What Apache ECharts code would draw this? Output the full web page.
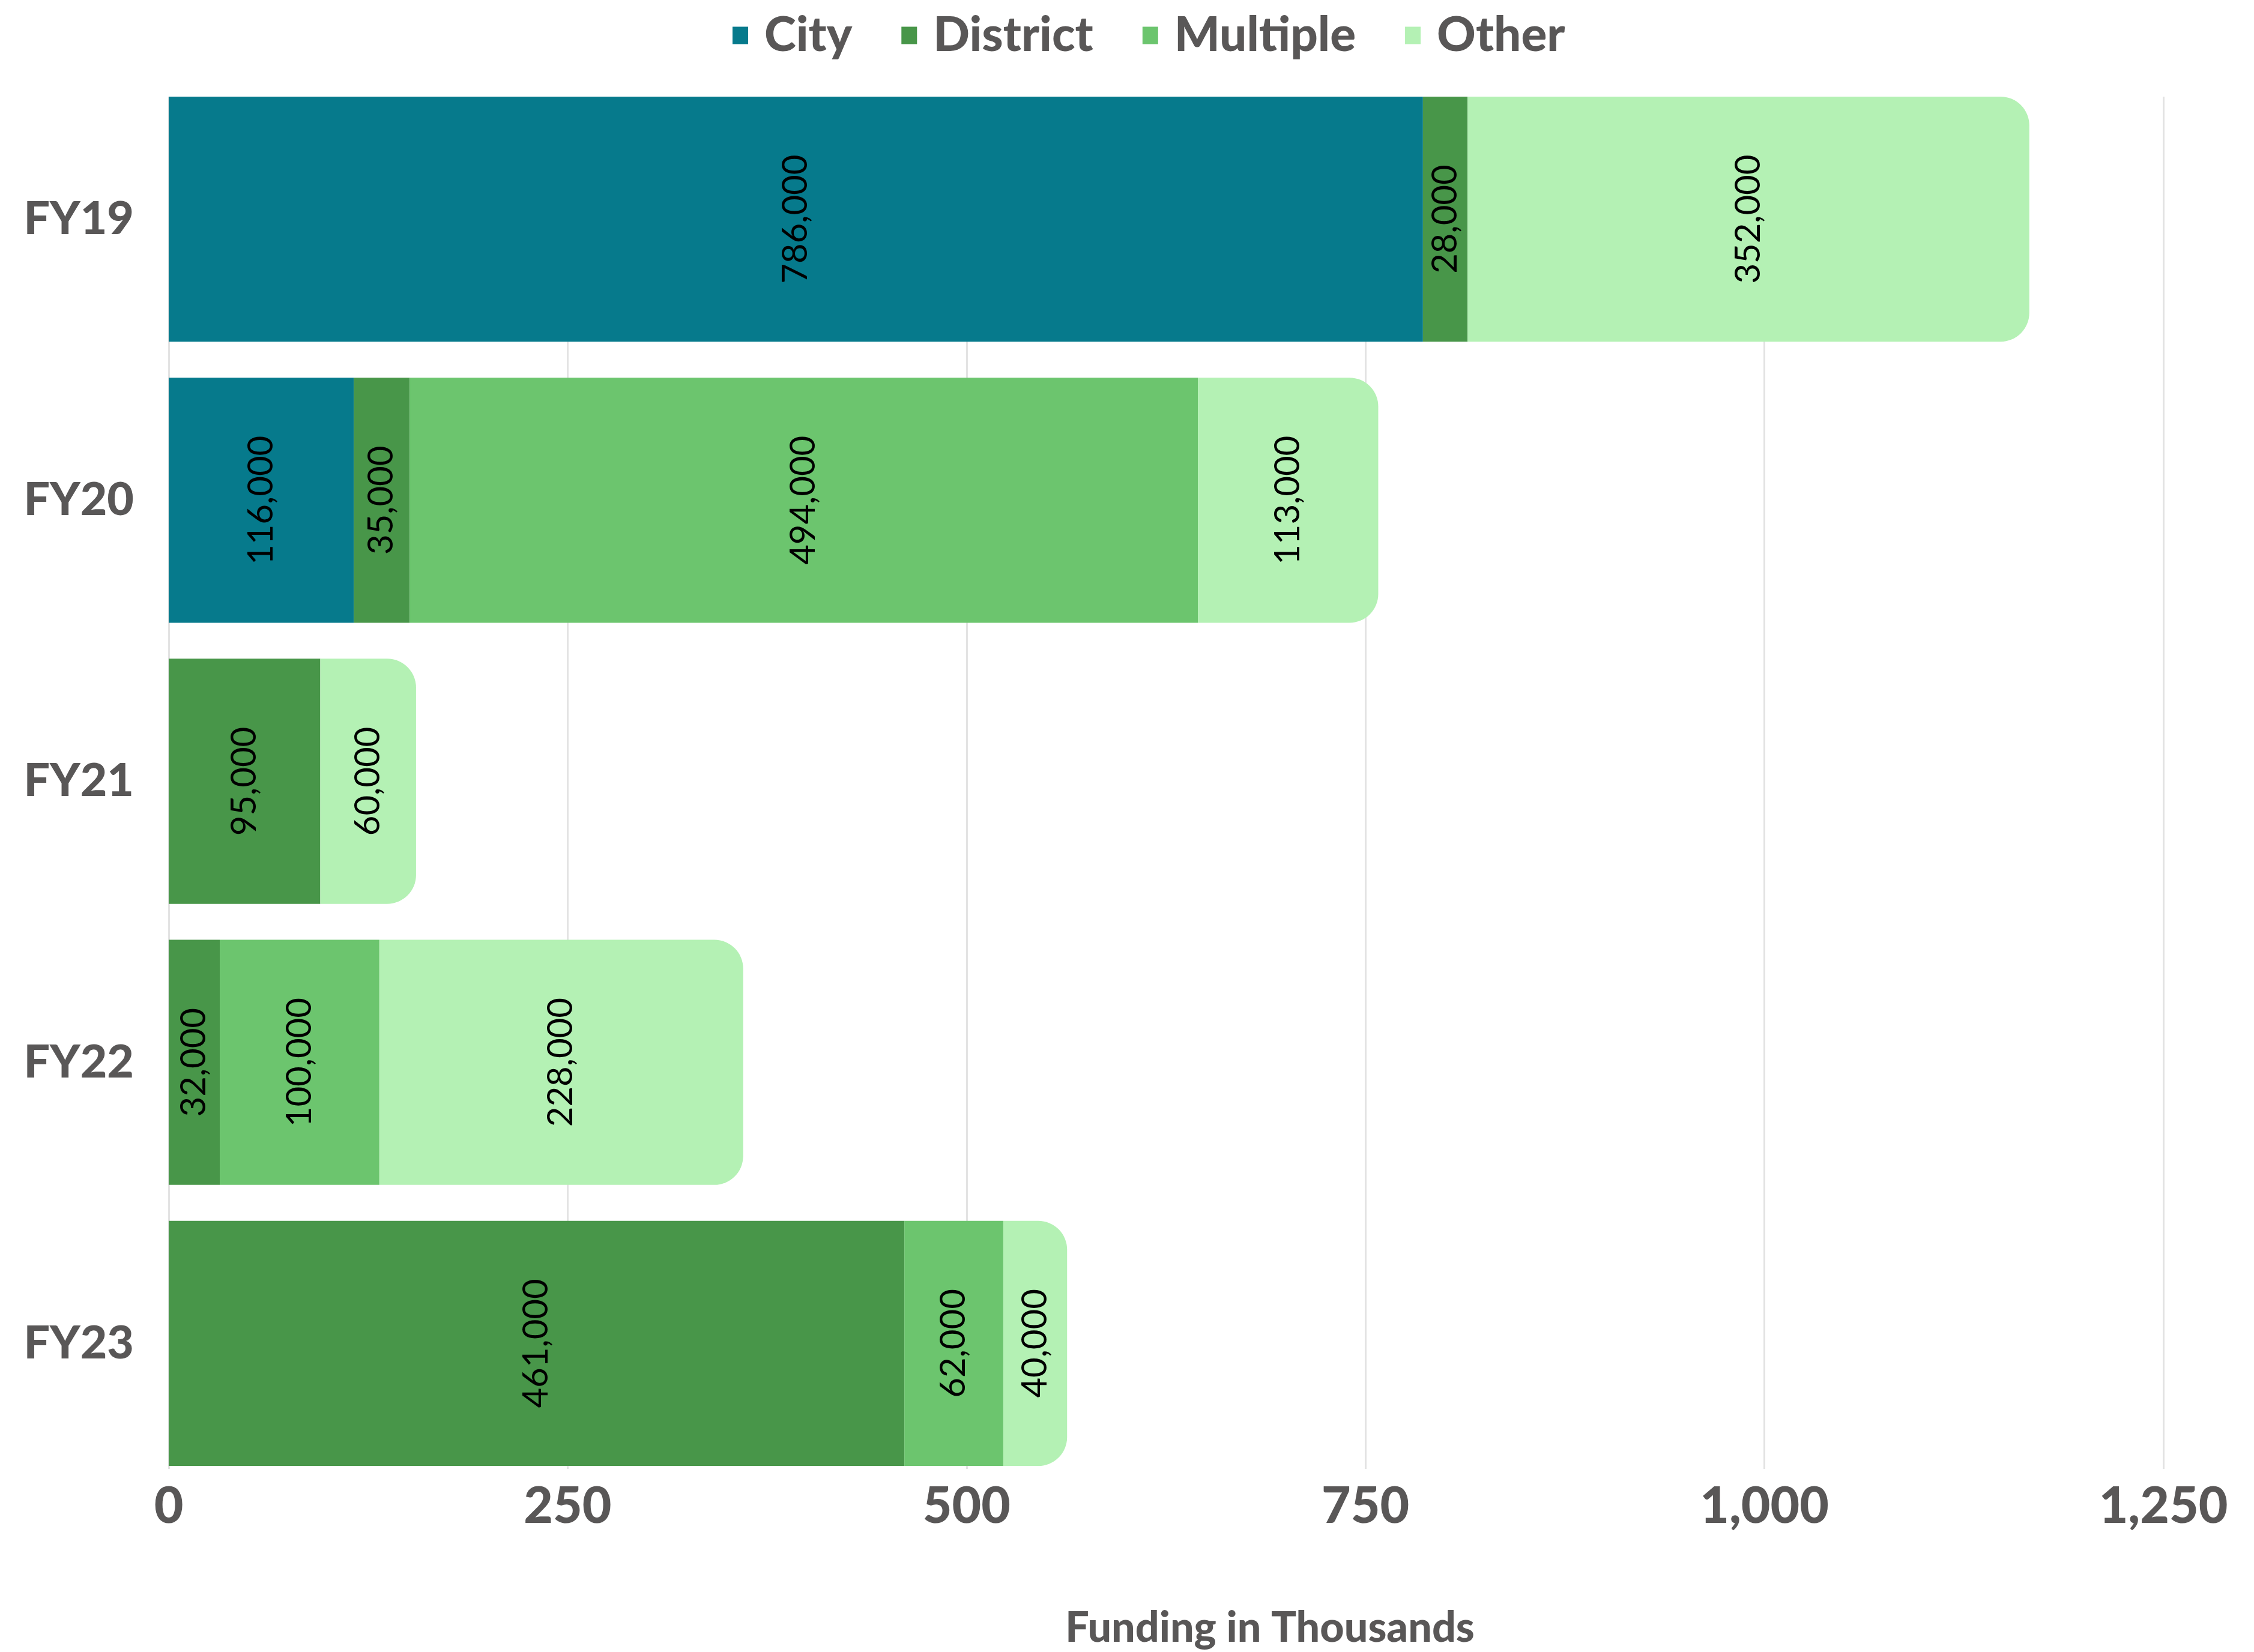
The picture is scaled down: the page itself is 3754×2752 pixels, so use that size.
<!DOCTYPE html>
<html>
<head>
<meta charset="utf-8">
<script src="https://cdn.jsdelivr.net/npm/echarts@6/dist/echarts.min.js"></script>
<style>
html,body{margin:0;padding:0;background:#fff;}
#chart{width:3754px;height:2752px;}
</style>
</head>
<body>
<div id="chart"></div>
<script>
const categories = ['FY19', 'FY20', 'FY21', 'FY22', 'FY23'];
const seriesNames = ['City', 'District', 'Multiple', 'Other'];
const cityValues = [786, 116, 0, 0, 0];
const districtValues = [28, 35, 95, 32, 461];
const multipleValues = [0, 494, 0, 100, 62];
const otherValues = [352, 113, 60, 228, 40];
const xTicks = { min: 0, max: 1250, interval: 250 };
const colors = ['#067a8c', '#489649', '#6cc56e', '#b4f1b4'];

const allValues = [cityValues, districtValues, multipleValues, otherValues];
const textGray = '#595757';

const chart = echarts.init(document.getElementById('chart'));

const series = seriesNames.map((name, i) => ({
  name: name,
  type: 'bar',
  stack: 'total',
  xAxisIndex: 0,
  yAxisIndex: 0,
  data: allValues[i],
  barCategoryGap: '12.8%',
  itemStyle: {
    color: colors[i],
    borderRadius: i === 3 ? [0, 48, 48, 0] : 0
  },
  label: {
    show: true,
    position: 'inside',
    rotate: 90,
    color: '#000',
    fontFamily: 'Lato',
    fontSize: 58,
    formatter: p => p.value ? (p.value * 1000).toLocaleString('en-US') : ''
  },
  emphasis: { disabled: true }
}));

chart.setOption({
  animation: false,
  backgroundColor: '#fff',
  color: colors,
  legend: {
    data: seriesNames,
    top: 14,
    left: 1215,
    icon: 'rect',
    itemWidth: 26,
    itemHeight: 29,
    itemGap: 82,
    textStyle: {
      color: textGray,
      fontFamily: 'Lato',
      fontWeight: 900,
      fontSize: 80,
      padding: [0, 0, 0, 22]
    }
  },
  grid: [
    { left: 281, right: 151, top: 131, bottom: 275, containLabel: false },
    { left: 281, right: 151, top: 161, bottom: 305, containLabel: false }
  ],
  xAxis: [
    {
      type: 'value',
      gridIndex: 0,
      min: xTicks.min,
      max: xTicks.max,
      interval: xTicks.interval,
      axisLine: { show: false },
      axisTick: { show: false },
      splitLine: { show: false },
      axisLabel: {
        color: textGray,
        fontFamily: 'Lato',
        fontWeight: 900,
        fontSize: 84,
        margin: -4,
        formatter: v => v.toLocaleString('en-US')
      },
      name: 'Funding in Thousands',
      nameLocation: 'middle',
      nameGap: 205,
      nameTextStyle: {
        color: textGray,
        fontFamily: 'Lato',
        fontWeight: 900,
        fontSize: 70,
        padding: [0, 0, 0, 346]
      }
    },
    {
      type: 'value',
      gridIndex: 1,
      min: xTicks.min,
      max: xTicks.max,
      interval: xTicks.interval,
      axisLine: { show: false },
      axisTick: { show: false },
      axisLabel: { show: false },
      splitLine: { show: true, lineStyle: { color: '#e3e3e3', width: 3 } }
    }
  ],
  yAxis: [
    {
      type: 'category',
      gridIndex: 0,
      data: categories,
      inverse: true,
      axisLine: { show: false },
      axisTick: { show: false },
      axisLabel: {
        color: textGray,
        fontFamily: 'Lato',
        fontWeight: 900,
        fontSize: 77,
        margin: 58
      }
    },
    {
      type: 'value',
      gridIndex: 1,
      show: false,
      min: 0,
      max: 1
    }
  ],
  series: series
});
</script>
</body>
</html>
